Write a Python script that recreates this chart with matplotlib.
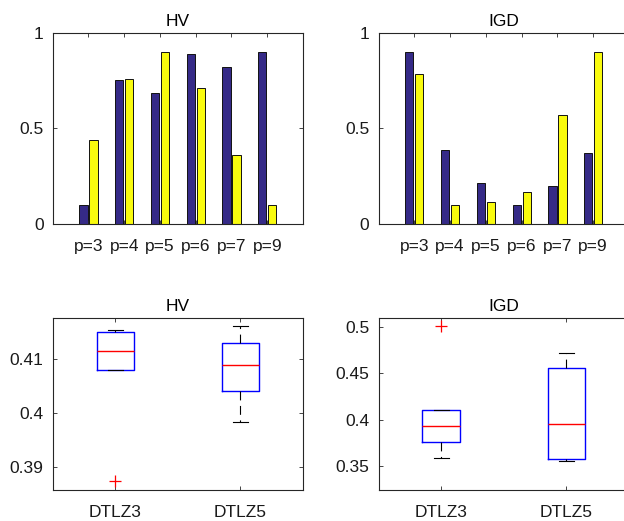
import matplotlib
matplotlib.use("Agg")
import matplotlib.pyplot as plt
import numpy as np

plt.rcParams['font.family'] = ['Liberation Sans', 'DejaVu Sans']

# ---- data ----
p_labels = ["p=3", "p=4", "p=5", "p=6", "p=7", "p=9"]
hv_dark = [0.10, 0.755, 0.687, 0.888, 0.823, 0.90]
hv_yellow = [0.439, 0.76, 0.90, 0.71, 0.362, 0.10]
igd_dark = [0.90, 0.388, 0.215, 0.10, 0.198, 0.372]
igd_yellow = [0.787, 0.10, 0.115, 0.168, 0.572, 0.90]

box_labels = ["DTLZ3", "DTLZ5"]
hv_box_med = [0.4115, 0.4088]
hv_box_q1 = [0.4080, 0.4040]
hv_box_q3 = [0.4150, 0.41295]
hv_box_whislo = [0.4080, 0.3983]
hv_box_whishi = [0.4154, 0.4161]
hv_box_fliers = [[0.3874], []]

igd_box_med = [0.3932, 0.3953]
igd_box_q1 = [0.3763, 0.3579]
igd_box_q3 = [0.4100, 0.4554]
igd_box_whislo = [0.3586, 0.3561]
igd_box_whishi = [0.4100, 0.4722]
igd_box_fliers = [[0.5007], []]

DARK = "#352A87"
YELLOW = "#F9FB0E"
AXC = "#262626"
FS = 12.5

fig = plt.figure(figsize=(6.24, 5.21), dpi=100)

W, H = 624.0, 521.0
def ax_at(x0, y0, x1, y1):
    return fig.add_axes([x0 / W, 1 - y1 / H, (x1 - x0) / W, (y1 - y0) / H])

def style(ax):
    for s in ax.spines.values():
        s.set_color(AXC)
        s.set_linewidth(0.8)
    ax.tick_params(direction='in', length=3, width=0.6, colors=AXC,
                   labelcolor='#1a1a1a', labelsize=FS, top=True, right=True)
    ax.tick_params(axis='x', pad=10.5)
    ax.tick_params(axis='y', pad=6.5)

def bars(ax, dark, yellow, title):
    x = np.arange(1, len(p_labels) + 1)
    ax.bar(x - 0.14, dark, width=0.23, color=DARK, edgecolor='#111111', linewidth=0.7)
    ax.bar(x + 0.14, yellow, width=0.23, color=YELLOW, edgecolor='#111111', linewidth=0.7)
    ax.set_xlim(0, 7)
    ax.set_ylim(0, 1)
    ax.set_xticks(x)
    ax.set_xticklabels(p_labels)
    ax.set_yticks([0, 0.5, 1])
    ax.set_yticklabels(["0", "0.5", "1"])
    ax.set_title(title, fontsize=FS, pad=5)
    style(ax)

def boxes(ax, med, q1, q3, wlo, whi, fl, title, ylim, yticks, yticklabels):
    stats = []
    for i in range(len(box_labels)):
        stats.append(dict(med=med[i], q1=q1[i], q3=q3[i], whislo=wlo[i],
                          whishi=whi[i], fliers=fl[i], label=box_labels[i]))
    ax.bxp(stats, positions=[1, 2], widths=0.3, showfliers=True,
           boxprops=dict(color='#0000FF', linewidth=1.0),
           medianprops=dict(color='#FF0000', linewidth=1.0),
           whiskerprops=dict(color='black', linewidth=0.8, linestyle=(0, (8, 5))),
           capprops=dict(color='black', linewidth=0.8),
           capwidths=0.12,
           flierprops=dict(marker='+', markeredgecolor='#FF0000', markersize=8,
                           linestyle='none', markeredgewidth=0.9))
    ax.set_xlim(0.5, 2.5)
    ax.set_ylim(*ylim)
    ax.set_yticks(yticks)
    ax.set_yticklabels(yticklabels)
    ax.set_title(title, fontsize=FS, pad=5)
    style(ax)

ax1 = ax_at(52.7, 33, 303, 224)
bars(ax1, hv_dark, hv_yellow, "HV")
ax2 = ax_at(378.5, 33, 629, 224)
bars(ax2, igd_dark, igd_yellow, "IGD")

ax3 = ax_at(52.7, 318.3, 303, 490)
boxes(ax3, hv_box_med, hv_box_q1, hv_box_q3, hv_box_whislo, hv_box_whishi,
      hv_box_fliers, "HV", (0.3858, 0.4175), [0.39, 0.40, 0.41], ["0.39", "0.4", "0.41"])
ax4 = ax_at(378.5, 318.3, 629, 490)
boxes(ax4, igd_box_med, igd_box_q1, igd_box_q3, igd_box_whislo, igd_box_whishi,
      igd_box_fliers, "IGD", (0.3246, 0.509), [0.35, 0.40, 0.45, 0.50],
      ["0.35", "0.4", "0.45", "0.5"])

fig.savefig("out.png", dpi=100)
